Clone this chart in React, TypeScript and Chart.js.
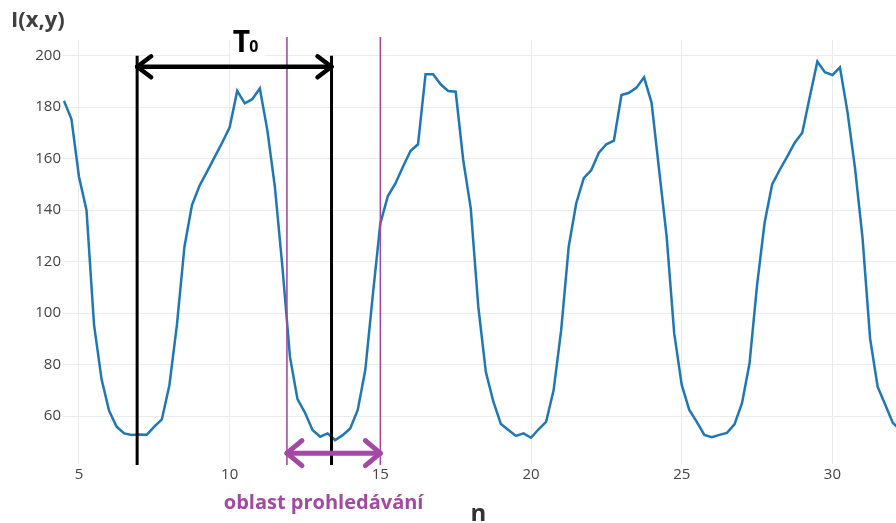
import React, { useEffect, useRef } from "react";
import { Chart, registerables } from "chart.js";

Chart.register(...registerables);

// n (x-axis sample positions)
const nValues = [
  4.5, 4.75, 5, 5.25, 5.5, 5.75, 6, 6.25, 6.5, 6.75,
  7, 7.25, 7.5, 7.75, 8, 8.25, 8.5, 8.75, 9, 9.25,
  9.5, 9.75, 10, 10.25, 10.5, 10.75, 11, 11.25, 11.5, 11.75,
  12, 12.25, 12.5, 12.75, 13, 13.25, 13.5, 13.75, 14, 14.25,
  14.5, 14.75, 15, 15.25, 15.5, 15.75, 16, 16.25, 16.5, 16.75,
  17, 17.25, 17.5, 17.75, 18, 18.25, 18.5, 18.75, 19, 19.25,
  19.5, 19.75, 20, 20.25, 20.5, 20.75, 21, 21.25, 21.5, 21.75,
  22, 22.25, 22.5, 22.75, 23, 23.25, 23.5, 23.75, 24, 24.25,
  24.5, 24.75, 25, 25.25, 25.5, 25.75, 26, 26.25, 26.5, 26.75,
  27, 27.25, 27.5, 27.75, 28, 28.25, 28.5, 28.75, 29, 29.25,
  29.5, 29.75, 30, 30.25, 30.5, 30.75, 31, 31.25, 31.5, 31.75,
  32, 32.25,
];

// I(x,y) intensity values
const intensity = [
  182.5, 175.4, 153, 140, 95.4, 74.3, 62.1, 55.9, 53.3, 52.7,
  52.9, 52.8, 55.9, 58.7, 72, 95.4, 125.8, 142, 149.5, 155,
  160.6, 166.2, 172.2, 186.3, 181.5, 183.1, 187.3, 171.1, 149.1, 118,
  83.1, 66.6, 61.3, 54.6, 52, 53.3, 50.7, 52.6, 55.2, 62.4,
  77.9, 107, 134.9, 145.5, 150.4, 156.9, 163, 165.6, 192.8, 192.8,
  188.9, 186.3, 186, 159.5, 140.7, 102.5, 77.2, 65.6, 56.9, 54.6,
  52.3, 53.3, 51.6, 54.9, 57.8, 70.1, 93.4, 125.8, 142.7, 152.4,
  155.6, 162.3, 165.6, 167, 184.7, 185.6, 187.6, 191.6, 181.7, 155.6,
  129.7, 92.2, 72.1, 62.4, 57.8, 52.7, 51.8, 52.7, 53.5, 56.8,
  65, 80.5, 110.9, 135.1, 150, 155.6, 160.8, 166.2, 170.1, 184.1,
  197.7, 193.6, 192.5, 195.5, 178.2, 156.3, 129.1, 90.2, 71.4, 64.5,
  57.5, 54.5,
];

// axis ranges and tick steps
const xRange = [4.47, 32.11];
const yRange = [41.4, 206.1];
const xTickStep = 5;
const yTickStep = 20;

// annotations (data coordinates)
const periodStart = 6.93;
const periodEnd = 13.38;
const periodArrowY = 195.7;
const periodTopY = 200;
const searchStart = 11.9;
const searchEnd = 15.0;
const searchArrowY = 45.6;
const searchTopY = 207.3;

const yTitle = "I(x,y)";
const xTitle = "n";
const periodLabel = "T";
const periodSub = "0";
const searchLabel = "oblast prohledávání";

const PURPLE = "#A349A4";

function drawChevron(ctx, x, y, dir, dx, dy) {
  ctx.beginPath();
  ctx.moveTo(x + dir * dx, y - dy);
  ctx.lineTo(x, y);
  ctx.lineTo(x + dir * dx, y + dy);
  ctx.stroke();
}

const annotationPlugin = {
  id: "annotations",
  afterDraw(chart) {
    const ctx = chart.ctx;
    const xs = chart.scales.x;
    const ys = chart.scales.y;
    const area = chart.chartArea;
    ctx.save();

    // purple search-region lines
    ctx.strokeStyle = PURPLE;
    ctx.lineWidth = 1.6;
    [searchStart, searchEnd].forEach((v) => {
      const px = xs.getPixelForValue(v);
      ctx.beginPath();
      ctx.moveTo(px, ys.getPixelForValue(searchTopY));
      ctx.lineTo(px, area.bottom + 1);
      ctx.stroke();
    });

    // black period lines
    ctx.strokeStyle = "#000";
    ctx.lineWidth = 3;
    [periodStart, periodEnd].forEach((v) => {
      const px = xs.getPixelForValue(v);
      ctx.beginPath();
      ctx.moveTo(px, ys.getPixelForValue(periodTopY));
      ctx.lineTo(px, area.bottom + 1);
      ctx.stroke();
    });

    // black double arrow
    const bx1 = xs.getPixelForValue(periodStart);
    const bx2 = xs.getPixelForValue(periodEnd);
    const by = ys.getPixelForValue(periodArrowY);
    ctx.lineWidth = 4.5;
    ctx.lineCap = "round";
    ctx.lineJoin = "round";
    ctx.beginPath();
    ctx.moveTo(bx1, by);
    ctx.lineTo(bx2, by);
    ctx.stroke();
    drawChevron(ctx, bx1, by, 1, 14, 10.5);
    drawChevron(ctx, bx2, by, -1, 14, 10.5);

    // purple double arrow
    const px1 = xs.getPixelForValue(searchStart);
    const px2 = xs.getPixelForValue(searchEnd);
    const py = ys.getPixelForValue(searchArrowY);
    ctx.strokeStyle = PURPLE;
    ctx.lineWidth = 5;
    ctx.beginPath();
    ctx.moveTo(px1, py);
    ctx.lineTo(px2, py);
    ctx.stroke();
    drawChevron(ctx, px1, py, 1, 15, 12.5);
    drawChevron(ctx, px2, py, -1, 15, 12.5);

    // T0 label with white backing
    const tx = (bx1 + bx2) / 2 - 0.5;
    const tBase = ys.getPixelForValue(201.4);
    ctx.fillStyle = "#fff";
    ctx.fillRect(tx - 3, tBase - 24, 34, by - tBase + 20);
    ctx.fillStyle = "#000";
    ctx.textBaseline = "alphabetic";
    ctx.textAlign = "left";
    ctx.font = "bold 30px 'Open Sans'";
    ctx.fillText(periodLabel, tx - 1, tBase);
    const tw = ctx.measureText(periodLabel).width;
    ctx.font = "bold 16px 'Open Sans'";
    ctx.fillText(periodSub, tx - 2 + tw, tBase);

    // search region label
    ctx.fillStyle = PURPLE;
    ctx.textAlign = "center";
    ctx.textBaseline = "middle";
    ctx.font = "bold 20px 'Open Sans'";
    ctx.fillText(searchLabel, (px1 + px2) / 2 - 10, area.bottom + 39);

    // axis titles
    ctx.fillStyle = "#404040";
    ctx.textAlign = "left";
    ctx.font = "bold 22px 'Open Sans'";
    ctx.fillText(yTitle, 11, 21);
    ctx.fillStyle = "#333";
    ctx.textAlign = "center";
    ctx.font = "bold 24px 'Open Sans'";
    ctx.fillText(xTitle, (area.left + area.right) / 2 - 1, area.bottom + 50);

    ctx.restore();
  },
};

export default function App() {
  const canvasRef = useRef(null);

  useEffect(() => {
    const data = nValues.map((n, i) => ({ x: n, y: intensity[i] }));
    const chart = new Chart(canvasRef.current, {
      type: "line",
      data: {
        datasets: [
          {
            data,
            borderColor: "#1f77b4",
            borderWidth: 2.5,
            pointRadius: 0,
            tension: 0,
            fill: false,
          },
        ],
      },
      options: {
        animation: false,
        responsive: false,
        devicePixelRatio: 1,
        layout: { padding: { left: 0, right: 0, top: 40, bottom: 0 } },
        plugins: {
          legend: { display: false },
          tooltip: { enabled: false },
          title: { display: false },
        },
        scales: {
          x: {
            type: "linear",
            min: xRange[0],
            max: xRange[1],
            border: { display: false },
            grid: { color: "#ebebeb", lineWidth: 1, drawTicks: false },
            ticks: {
              stepSize: xTickStep,
              includeBounds: false,
              color: "#444",
              font: { family: "'Open Sans'", size: 15 },
              padding: 2,
              maxRotation: 0,
            },
            afterFit(scale) {
              scale.height = 59;
            },
          },
          y: {
            type: "linear",
            min: yRange[0],
            max: yRange[1],
            border: { display: false },
            grid: { color: "#ebebeb", lineWidth: 1, drawTicks: false },
            ticks: {
              stepSize: yTickStep,
              includeBounds: false,
              color: "#444",
              font: { family: "'Open Sans'", size: 15 },
              padding: 2,
            },
            afterFit(scale) {
              scale.width = 63;
            },
          },
        },
      },
      plugins: [annotationPlugin],
    });
    return () => chart.destroy();
  }, []);

  return (
    <div style={{ position: "fixed", left: 0, top: 0, width: 896, height: 523, background: "#fff" }}>
      <canvas ref={canvasRef} width={896} height={523} style={{ display: "block" }} />
    </div>
  );
}
